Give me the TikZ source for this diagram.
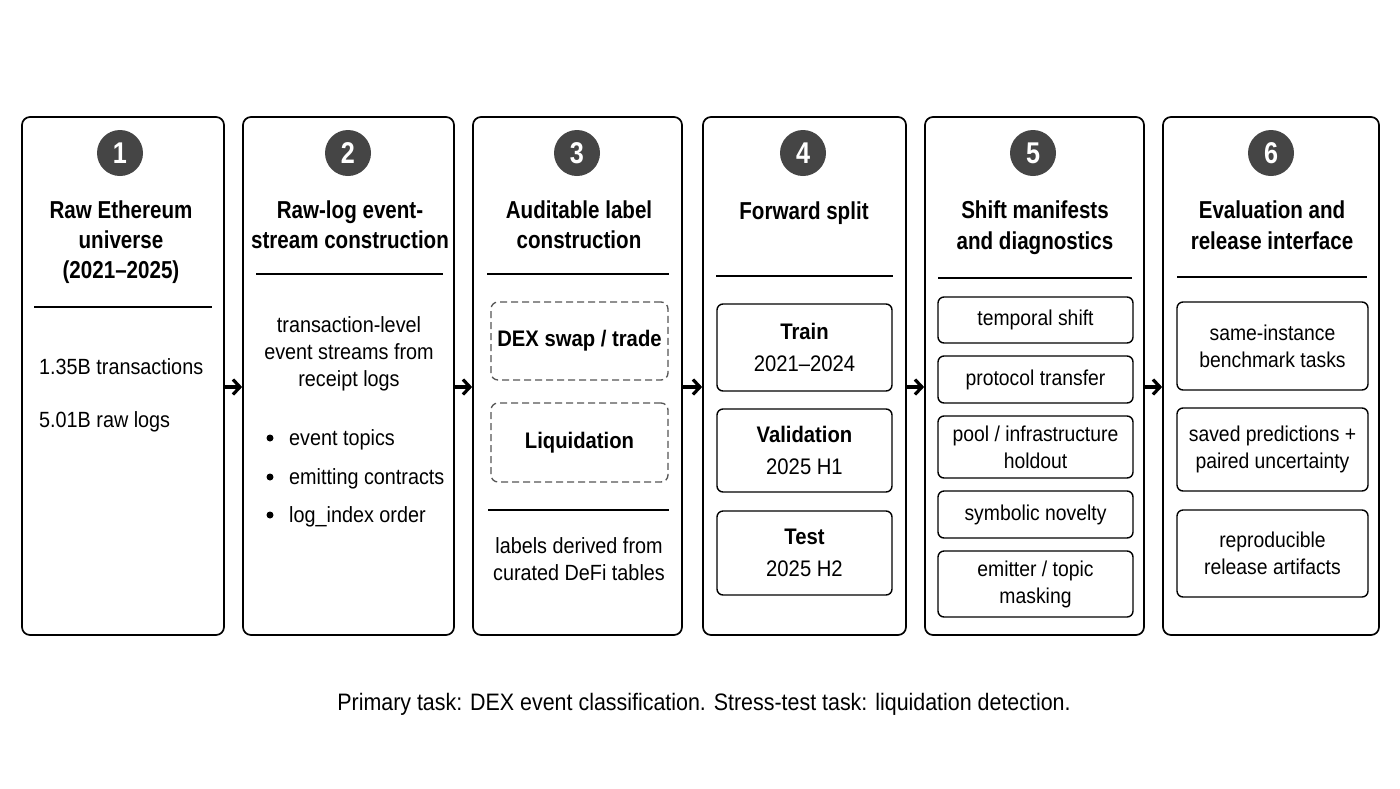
\documentclass[tikz,border=0pt]{standalone}
\usepackage{fontspec}
\setmainfont[FakeStretch=0.9]{Liberation Sans}
\newfontfamily\ttlfont[FakeStretch=0.84]{Liberation Sans}
\usetikzlibrary{arrows.meta}
\definecolor{numgray}{HTML}{454545}
\definecolor{dashgray}{HTML}{555555}
\begin{document}
\begin{tikzpicture}[x=1pt,y=-1pt,
  colbox/.style={draw=black,line width=1.7pt,rounded corners=8pt,inner sep=0pt},
  numc/.style={circle,fill=numgray,text=white,minimum size=46pt,inner sep=0pt,font=\ttlfont\fontsize{30}{30}\selectfont\bfseries},
  ttl/.style={anchor=base,inner sep=0pt,font=\ttlfont\fontsize{24.5}{30}\selectfont\bfseries},
  bdy/.style={anchor=base,inner sep=0pt,font=\fontsize{22}{27}\selectfont},
  bdyw/.style={anchor=base west,inner sep=0pt,font=\fontsize{22}{27}\selectfont},
  subbox/.style={draw=black,line width=1.4pt,rounded corners=6pt,inner sep=0pt,align=center,font=\fontsize{21.5}{27}\selectfont},
  splitbox/.style={draw=black,line width=1.4pt,rounded corners=6pt,inner sep=0pt,align=center,font=\fontsize{22.5}{32}\selectfont},
  dashbox/.style={draw=dashgray,line width=1.3pt,dash pattern=on 7pt off 4pt,rounded corners=7pt,inner sep=0pt,align=center,font=\fontsize{22.5}{27}\selectfont\bfseries},
  sep/.style={line width=1.7pt},
  arr/.style={line width=3.2pt,-{Straight Barb[length=7pt,width=15pt]}},
  bul/.style={circle,fill=black,minimum size=7pt,inner sep=0pt}
]
\useasboundingbox (0,0) rectangle (1400,788);
\fill[white] (0,0) rectangle (1400,788);

% Column boxes
\node[colbox,minimum width=202pt,minimum height=518pt] (c1) at (123,376) {};
\node[colbox,minimum width=211pt,minimum height=518pt] (c2) at (348.5,376) {};
\node[colbox,minimum width=209pt,minimum height=518pt] (c3) at (577.5,376) {};
\node[colbox,minimum width=203pt,minimum height=518pt] (c4) at (804.5,376) {};
\node[colbox,minimum width=219pt,minimum height=518pt] (c5) at (1034.5,376) {};
\node[colbox,minimum width=216pt,minimum height=518pt] (c6) at (1271,376) {};

% Number circles
\node[numc] (n1) at (120,153) {1};
\node[numc] (n2) at (348,153) {2};
\node[numc] (n3) at (577,153) {3};
\node[numc] (n4) at (803,153) {4};
\node[numc] (n5) at (1033,153) {5};
\node[numc] (n6) at (1271,153) {6};

% Column 1
\node[ttl] (t1a) at (121,218) {Raw Ethereum};
\node[ttl] (t1b) at (121,248) {universe};
\node[ttl] (t1c) at (121,278) {(2021–2025)};
\draw[sep] (34,307) -- (212,307);
\node[bdyw] (b1a) at (39,374) {1.35B transactions};
\node[bdyw] (b1b) at (39,427) {5.01B raw logs};

% Column 2
\node[ttl] (t2a) at (350,218) {Raw-log event-};
\node[ttl] (t2b) at (350,248) {stream construction};
\draw[sep] (256,274) -- (443,274);
\node[bdy] (b2a) at (349,332) {transaction-level};
\node[bdy] (b2b) at (349,359) {event streams from};
\node[bdy] (b2c) at (349,386) {receipt logs};
\node[bul] (u1) at (270,438) {};
\node[bul] (u2) at (270,477) {};
\node[bul] (u3) at (270,515) {};
\node[bdyw] (l1) at (289,445) {event topics};
\node[bdyw] (l2) at (289,484) {emitting contracts};
\node[bdyw] (l3) at (289,522) {log\_index order};

% Column 3
\node[ttl] (t3a) at (579,218) {Auditable label};
\node[ttl] (t3b) at (579,248) {construction};
\draw[sep] (487,274) -- (669,274);
\node[dashbox,minimum width=177pt,minimum height=78pt] (d1) at (579.5,341) {DEX swap / trade};
\node[dashbox,minimum width=177pt,minimum height=79pt] (d2) at (579.5,442.5) {Liquidation};
\draw[sep] (488,510) -- (669,510);
\node[bdy] (b3a) at (579,553) {labels derived from};
\node[bdy] (b3b) at (579,580) {curated DeFi tables};

% Column 4
\node[ttl] (t4a) at (804,219) {Forward split};
\draw[sep] (716,276) -- (893,276);
\node[splitbox,minimum width=175pt,minimum height=87pt] (s1) at (804.5,347.5) {{\bfseries Train}\\2021–2024};
\node[splitbox,minimum width=175pt,minimum height=83pt] (s2) at (804.5,450.5) {{\bfseries Validation}\\2025 H1};
\node[splitbox,minimum width=175pt,minimum height=84pt] (s3) at (804.5,553) {{\bfseries Test}\\2025 H2};

% Column 5
\node[ttl] (t5a) at (1035,218) {Shift manifests};
\node[ttl] (t5b) at (1035,249) {and diagnostics};
\draw[sep] (938,278) -- (1132,278);
\node[subbox,minimum width=195pt,minimum height=46pt,text height=15pt,text depth=4pt] (m1) at (1035.5,320) {temporal shift};
\node[subbox,minimum width=195pt,minimum height=47pt,text height=15pt,text depth=4pt] (m2) at (1035.5,379.5) {protocol transfer};
\node[subbox,minimum width=195pt,minimum height=62pt] (m3) at (1035.5,447) {pool / infrastructure\\holdout};
\node[subbox,minimum width=195pt,minimum height=47pt,text height=15pt,text depth=4pt] (m4) at (1035.5,514.5) {symbolic novelty};
\node[subbox,minimum width=195pt,minimum height=66pt] (m5) at (1035.5,584) {emitter / topic\\masking};

% Column 6
\node[ttl] (t6a) at (1272,218) {Evaluation and};
\node[ttl] (t6b) at (1272,249) {release interface};
\draw[sep] (1177,277) -- (1367,277);
\node[subbox,minimum width=191pt,minimum height=88pt] (r1) at (1272.5,346) {same-instance\\benchmark tasks};
\node[subbox,minimum width=191pt,minimum height=83pt] (r2) at (1272.5,449.5) {saved predictions +\\paired uncertainty};
\node[subbox,minimum width=191pt,minimum height=87pt] (r3) at (1272.5,553.5) {reproducible\\release artifacts};

% Arrows
\draw[arr] ([yshift=-11pt]c1.east) -- ([yshift=-11pt]c2.west);
\draw[arr] ([yshift=-11pt]c2.east) -- ([yshift=-11pt]c3.west);
\draw[arr] ([yshift=-11pt]c3.east) -- ([yshift=-11pt]c4.west);
\draw[arr] ([yshift=-11pt]c4.east) -- ([yshift=-11pt]c5.west);
\draw[arr] ([yshift=-11pt]c5.east) -- ([yshift=-11pt]c6.west);

% Caption
\node[anchor=base,inner sep=0pt,font=\fontsize{23.8}{28}\selectfont] (cap) at (704,710) {Primary task: DEX event classification. Stress-test task: liquidation detection.};
\end{tikzpicture}
\end{document}
